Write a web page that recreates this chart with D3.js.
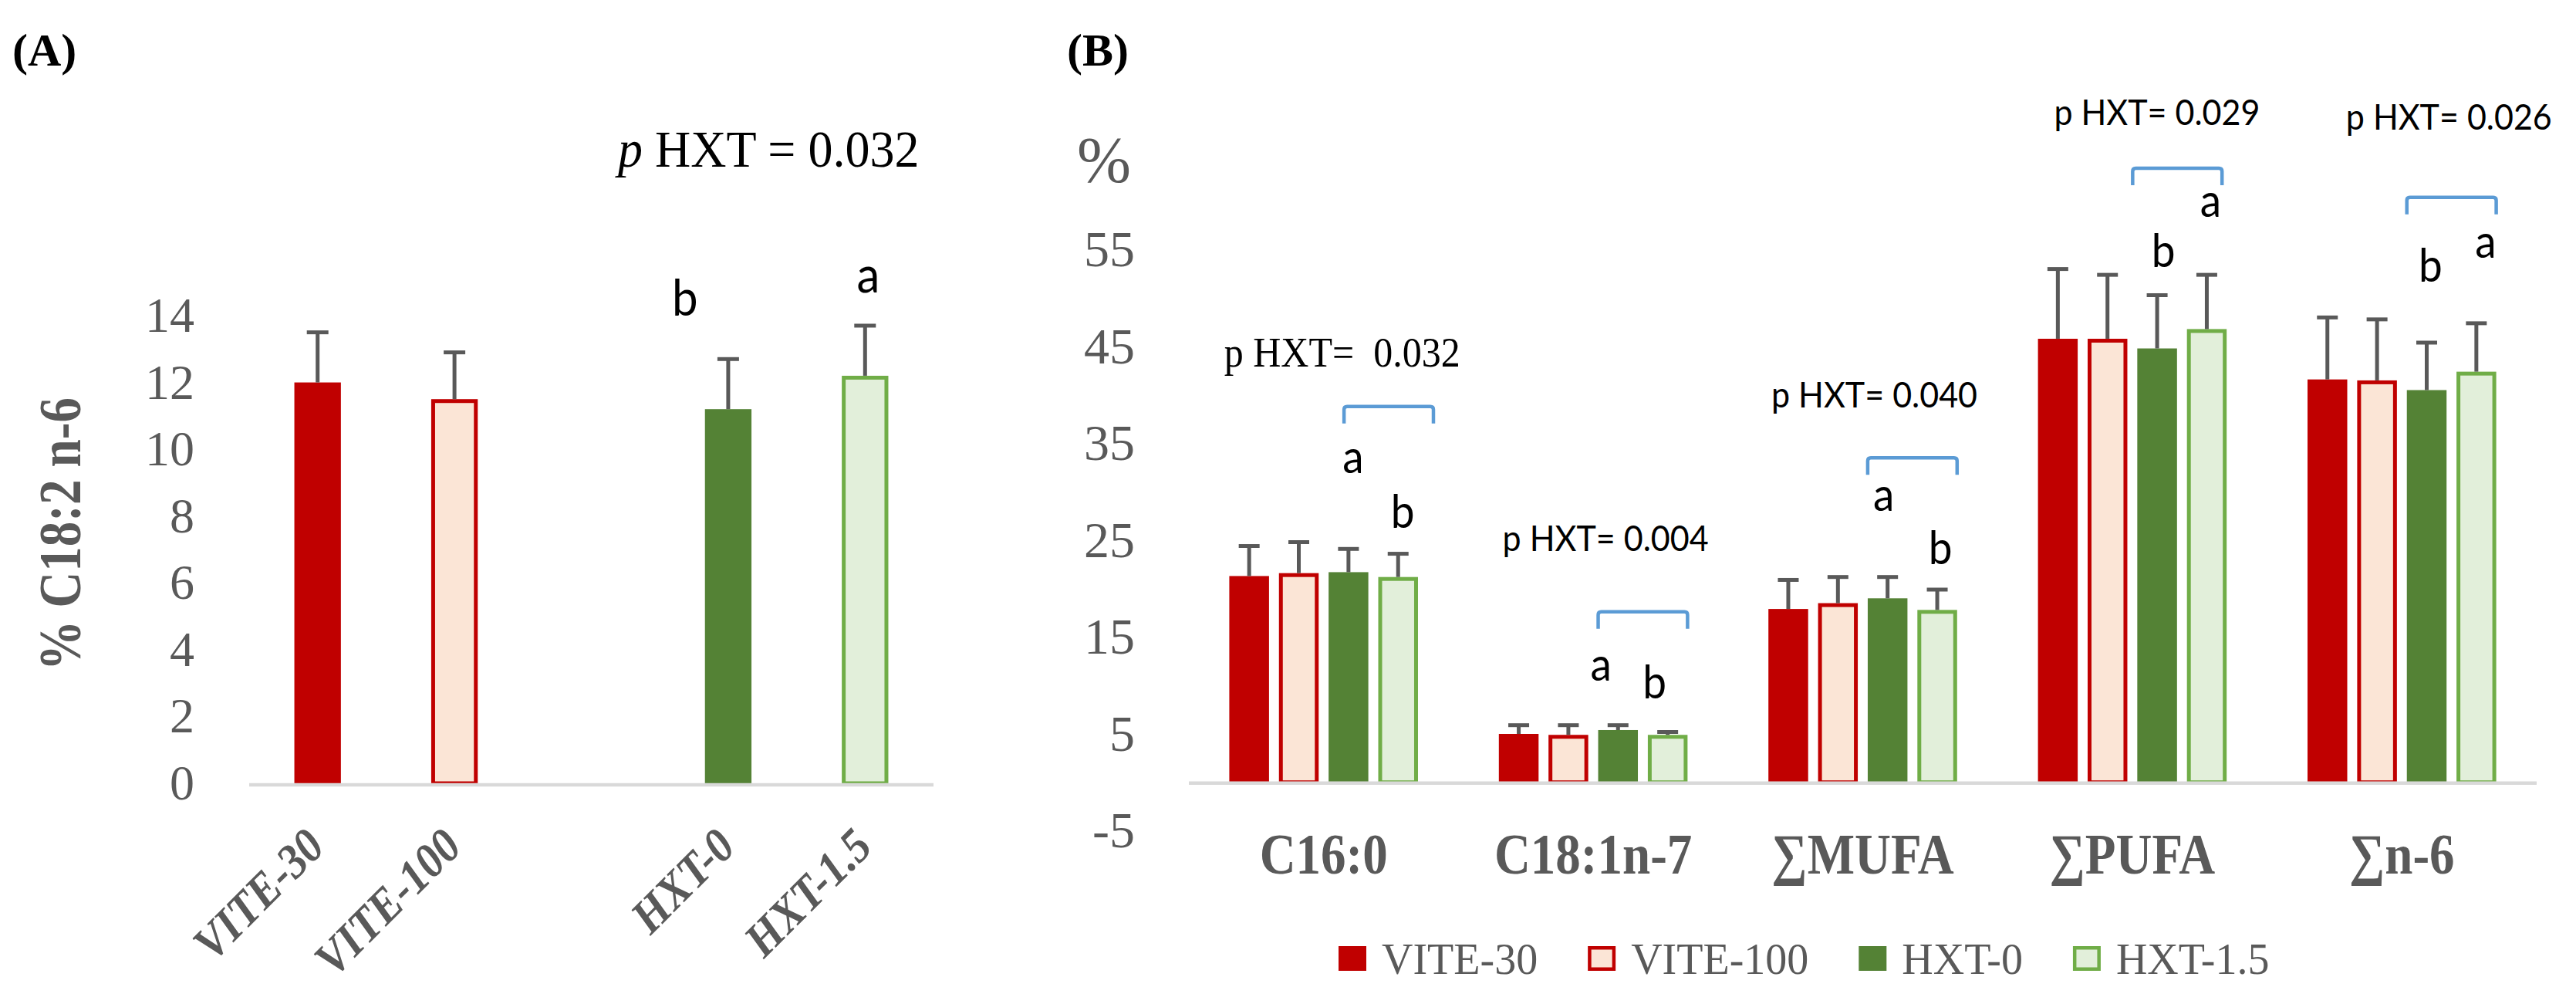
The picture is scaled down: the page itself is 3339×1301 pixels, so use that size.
<!DOCTYPE html>
<html><head><meta charset="utf-8">
<script src="https://cdn.jsdelivr.net/npm/d3@7"></script>
<style>body{margin:0;background:#fff}svg{display:block}</style>
</head><body>
<script>
// ---------------- DATA ----------------
const seriesNames = ["VITE-30", "VITE-100", "HXT-0", "HXT-1.5"];

// Panel A: % C18:2 n-6
const slotsA = ["VITE-30", "VITE-100", "gap", "HXT-0", "HXT-1.5"];
const valuesA = [12.0, 11.5, 11.2, 12.2];
const sdA = [1.5, 1.4, 1.5, 1.5];
const ticksA = [0, 2, 4, 6, 8, 10, 12, 14];
const lettersA = ["b", "a"];          // above HXT-0, HXT-1.5
const letterValA = [14.0, 14.7];
const pValueA = "0.032";

// Panel B
const categoriesB = ["C16:0", "C18:1n-7", "\u2211MUFA", "\u2211PUFA", "\u2211n-6"];
const vite30  = [21.3, 5.0, 17.9, 45.8, 41.6];
const vite100 = [21.6, 4.9, 18.5, 45.8, 41.5];
const hxt0    = [21.7, 5.4, 19.0, 44.8, 40.5];
const hxt15   = [21.2, 4.9, 17.8, 46.8, 42.4];
const sdVite30  = [3.1, 0.9, 3.0, 7.2, 6.4];
const sdVite100 = [3.2, 1.0, 2.7, 6.6, 6.3];
const sdHxt0    = [2.4, 0.5, 2.2, 5.5, 4.9];
const sdHxt15   = [2.4, 0.3, 2.1, 5.6, 5.0];
const ticksB = [-5, 5, 15, 25, 35, 45, 55];
const pValuesB = ["0.032", "0.004", "0.040", "0.029", "0.026"];
const pLabelValB = [42.9, 23.9, 38.7, 67.9, 67.4];
const bracketValB = [38.8, 17.6, 33.5, 63.4, 60.4];
const lettersHxt0 = ["a", "a", "a", "b", "b"];
const lettersHxt15 = ["b", "b", "b", "a", "a"];
const letterValHxt0 = [31.9, 10.5, 28.0, 53.2, 51.7];
const letterValHxt15 = [26.3, 8.7, 22.5, 58.4, 54.2];

// ---------------- STYLE ----------------
const fills = {"VITE-30": "#c00000", "VITE-100": "#fbe5d6", "HXT-0": "#548235", "HXT-1.5": "#e2efda"};
const strokes = {"VITE-30": null, "VITE-100": "#c00000", "HXT-0": null, "HXT-1.5": "#70ad47"};
const GRAY = "#595959";
const SERIF = "'Liberation Serif','Times New Roman',serif";
const SANS = "Lato,'Open Sans',sans-serif";
const BLUE = "#5b9bd5";

const W = 3339, H = 1301;
const svg = d3.select("body").append("svg").attr("width", W).attr("height", H);
svg.append("rect").attr("width", W).attr("height", H).attr("fill", "#fff");

function drawBar(g, x, w, y0, y1, name) {
  const sw = strokes[name] ? 5 : 0;
  g.append("rect")
    .attr("x", x + sw / 2).attr("width", w - sw)
    .attr("y", y1 + sw / 2).attr("height", Math.max(0, y0 - y1 - sw / 2))
    .attr("fill", fills[name])
    .attr("stroke", strokes[name] || "none")
    .attr("stroke-width", sw);
}
function drawErr(g, cx, yTop, yBar, cap) {
  g.append("line").attr("x1", cx).attr("x2", cx).attr("y1", yBar).attr("y2", yTop)
    .attr("stroke", GRAY).attr("stroke-width", 5);
  g.append("line").attr("x1", cx - cap / 2).attr("x2", cx + cap / 2).attr("y1", yTop).attr("y2", yTop)
    .attr("stroke", GRAY).attr("stroke-width", 5);
}
// stretch text vertically (reference glyphs look condensed/tall)
function tallText(sel, s) {
  sel.each(function () {
    const t = d3.select(this);
    const x = +t.attr("x") || 0, y = +t.attr("y") || 0;
    const dy = t.attr("dy");
    t.attr("x", 0).attr("y", 0).attr("transform", `translate(${x},${y}) scale(1,${s})`);
    if (dy) t.attr("dy", dy);
  });
}

// ================= PANEL A =================
const gA = svg.append("g");
const xA = d3.scaleBand().domain(slotsA).range([323, 1210]).paddingInner(0.66).paddingOuter(0.33);
const yA = d3.scaleLinear().domain([0, 14]).range([1015, 409]);

gA.append("text").attr("x", 16).attr("y", 85).attr("font-family", SERIF).attr("font-weight", "bold")
  .attr("font-size", 60).attr("fill", "#000").text("(A)");

// p text
const pA = gA.append("text").attr("x", 801).attr("y", 216).attr("font-family", SERIF)
  .attr("font-size", 64).attr("fill", "#000").attr("xml:space", "preserve");
pA.append("tspan").attr("font-style", "italic").text("p");
pA.append("tspan").text(" HXT = " + pValueA);
tallText(pA, 1.05);

// y axis ticks
const axA = gA.append("g").attr("transform", "translate(262,0)")
  .call(d3.axisLeft(yA).tickValues(ticksA).tickSize(0).tickPadding(10).tickFormat(d => String(d)));
axA.select(".domain").remove();
axA.selectAll("text").attr("font-family", SERIF).attr("font-size", 64).attr("fill", GRAY);

// y title
gA.append("text").attr("transform", "translate(104,692) rotate(-90) scale(1,1.2)")
  .attr("text-anchor", "middle").attr("font-family", SERIF).attr("font-weight", "bold")
  .attr("font-size", 65).attr("fill", GRAY).text("% C18:2 n-6");

// bars
seriesNames.forEach((n, i) => {
  drawBar(gA, xA(n), xA.bandwidth(), yA(0), yA(valuesA[i]), n);
});
seriesNames.forEach((n, i) => {
  drawErr(gA, xA(n) + xA.bandwidth() / 2, yA(valuesA[i] + sdA[i]), yA(valuesA[i]), 28);
});
// baseline
gA.append("line").attr("x1", 323).attr("x2", 1210).attr("y1", yA(0) + 2).attr("y2", yA(0) + 2)
  .attr("stroke", "#d9d9d9").attr("stroke-width", 4.5);

// x labels
seriesNames.forEach(n => {
  gA.append("text")
    .attr("transform", `translate(${xA(n) + xA.bandwidth() / 2 + 12},1100) rotate(-45) scale(1,1.1)`)
    .attr("text-anchor", "end").attr("font-family", SERIF).attr("font-weight", "bold")
    .attr("font-style", "italic").attr("font-size", 57).attr("fill", GRAY).text(n);
});

// letters
const letterDxA = [-56, 4];
["HXT-0", "HXT-1.5"].forEach((n, i) => {
  const t = gA.append("text").attr("x", xA(n) + xA.bandwidth() / 2 + letterDxA[i]).attr("y", yA(letterValA[i]))
    .attr("text-anchor", "middle").attr("font-family", SANS).attr("font-size", 60)
    .attr("fill", "#000").text(lettersA[i]);
  tallText(t, 1.1);
});

// ================= PANEL B =================
const gB = svg.append("g");
const x0 = d3.scaleBand().domain(categoriesB).range([1541, 3288]).paddingInner(0.3).paddingOuter(0.15);
const x1 = d3.scaleBand().domain(seriesNames).range([0, x0.bandwidth()]).paddingInner(0.2);
const yB = d3.scaleLinear().domain([-5, 55]).range([1076.5, 323.5]);

gB.append("text").attr("x", 1383).attr("y", 85).attr("font-family", SERIF).attr("font-weight", "bold")
  .attr("font-size", 60).attr("fill", "#000").text("(B)");

gB.append("text").attr("x", 1396).attr("y", 236).attr("font-family", SERIF)
  .attr("font-size", 84).attr("fill", GRAY).text("%");

const axB = gB.append("g").attr("transform", "translate(1481,0)")
  .call(d3.axisLeft(yB).tickValues(ticksB).tickSize(0).tickPadding(10).tickFormat(d => String(d)));
axB.select(".domain").remove();
axB.selectAll("text").attr("font-family", SERIF).attr("font-size", 66).attr("fill", GRAY);

const seriesVals = [vite30, vite100, hxt0, hxt15];
const seriesSd = [sdVite30, sdVite100, sdHxt0, sdHxt15];

categoriesB.forEach((c, ci) => {
  seriesNames.forEach((n, si) => {
    drawBar(gB, x0(c) + x1(n), x1.bandwidth(), yB(0), yB(seriesVals[si][ci]), n);
  });
});
categoriesB.forEach((c, ci) => {
  seriesNames.forEach((n, si) => {
    const v = seriesVals[si][ci];
    drawErr(gB, x0(c) + x1(n) + x1.bandwidth() / 2, yB(v + seriesSd[si][ci]), yB(v), 27);
  });
});
gB.append("line").attr("x1", 1541).attr("x2", 3288).attr("y1", yB(0) + 1).attr("y2", yB(0) + 1)
  .attr("stroke", "#d9d9d9").attr("stroke-width", 4.5);

// category labels
categoriesB.forEach(c => {
  gB.append("text").attr("transform", `translate(${x0(c) + x0.bandwidth() / 2},1132) scale(1,1.14)`)
    .attr("text-anchor", "middle").attr("font-family", SERIF).attr("font-weight", "bold")
    .attr("font-size", 65).attr("fill", GRAY).text(c);
});

// brackets
const bracketDx = [20, 0, 0, -6, 0];
categoriesB.forEach((c, ci) => {
  const xl = x0(c) + x1("HXT-0") + bracketDx[ci];
  const xr = x0(c) + x1("HXT-1.5") + x1.bandwidth() + bracketDx[ci];
  const yt = yB(bracketValB[ci]);
  const leg = 22, r = 4;
  gB.append("path")
    .attr("d", `M${xl},${yt + leg} L${xl},${yt + r} Q${xl},${yt} ${xl + r},${yt} L${xr - r},${yt} Q${xr},${yt} ${xr},${yt + r} L${xr},${yt + leg}`)
    .attr("fill", "none").attr("stroke", BLUE).attr("stroke-width", 4.5);
});

// p labels
const pDx = [24, 16, 15, 32, 61];
categoriesB.forEach((c, ci) => {
  const cx = x0(c) + x0.bandwidth() / 2 + pDx[ci];
  const t = gB.append("text").attr("x", cx).attr("y", yB(pLabelValB[ci]))
    .attr("text-anchor", "middle").attr("fill", "#000").attr("xml:space", "preserve");
  if (ci === 0) {
    t.attr("font-family", SERIF).attr("font-size", 50).text("p HXT=  " + pValuesB[ci]);
  } else {
    t.attr("font-family", SANS).attr("font-size", 43).text("p HXT= " + pValuesB[ci]);
  }
  tallText(t, 1.1);
});

// letters
const dxHxt0 = [6, -22, -5, 8, 5];
const dxHxt15 = [6, -17, 4, 5, 12];
categoriesB.forEach((c, ci) => {
  const t1 = gB.append("text").attr("x", x0(c) + x1("HXT-0") + x1.bandwidth() / 2 + dxHxt0[ci])
    .attr("y", yB(letterValHxt0[ci])).attr("text-anchor", "middle")
    .attr("font-family", SANS).attr("font-size", 55).attr("fill", "#000").text(lettersHxt0[ci]);
  const t2 = gB.append("text").attr("x", x0(c) + x1("HXT-1.5") + x1.bandwidth() / 2 + dxHxt15[ci])
    .attr("y", yB(letterValHxt15[ci])).attr("text-anchor", "middle")
    .attr("font-family", SANS).attr("font-size", 55).attr("fill", "#000").text(lettersHxt15[ci]);
  tallText(t1, 1.1);
  tallText(t2, 1.1);
});

// legend
const leg = gB.append("g");
let lx = 1735;
seriesNames.forEach(n => {
  const sw = strokes[n] ? 4.5 : 0;
  leg.append("rect").attr("x", lx + sw / 2).attr("y", 1226 + sw / 2).attr("width", 36 - sw).attr("height", 32 - sw)
    .attr("fill", fills[n]).attr("stroke", strokes[n] || "none").attr("stroke-width", sw);
  const t = leg.append("text").attr("x", lx + 56).attr("y", 1262).attr("font-family", SERIF)
    .attr("font-size", 56).attr("fill", GRAY).text(n);
  lx += 56 + t.node().getComputedTextLength() + 65;
});
</script>
</body></html>
